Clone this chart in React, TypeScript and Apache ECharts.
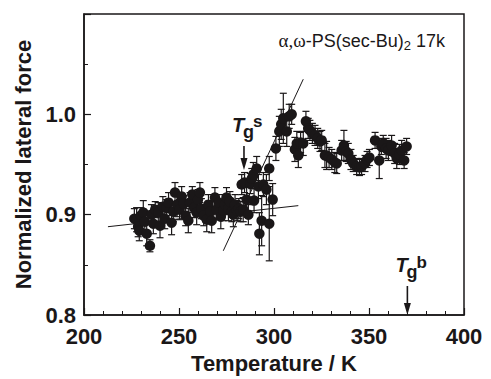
import React, { useEffect, useRef } from 'react';
import * as echarts from 'echarts';

// Temperature (K)
const temperatures = [
  226.5, 227.7, 228.5, 229.1, 230.0, 231.2, 232.0, 233.0, 234.7, 235.5,
  236.5, 237.5, 239.1, 240.0, 241.5, 242.5, 243.5, 244.5, 246.1, 247.0,
  247.9, 249.0, 250.3, 251.4, 252.5, 253.5, 254.9, 255.8, 257.0, 258.0,
  259.3, 260.0, 261.0, 261.8, 263.0, 264.6, 265.5, 266.5, 267.2, 268.9,
  269.8, 271.0, 272.0, 273.3, 274.2, 275.0, 276.0, 276.8, 277.8, 278.6,
  279.5, 280.5, 281.5, 282.5, 283.0, 283.8, 284.5, 285.6, 286.5, 287.5,
  288.3, 289.1, 289.5, 290.9, 291.8, 292.3, 293.5, 294.4, 296.0, 297.5,
  297.5, 299.3, 301.0, 302.8, 303.8, 304.9, 306.7, 308.0, 309.3, 311.0,
  312.0, 312.8, 314.0, 315.4, 316.8, 318.0, 318.9, 320.2, 321.6, 323.0,
  324.2, 325.1, 326.8, 327.7, 329.0, 330.4, 332.0, 333.0, 335.6, 336.8,
  338.0, 339.1, 340.5, 341.7, 343.5, 345.0, 346.1, 347.9, 349.0, 350.2,
  353.2, 355.4, 356.5, 357.5, 359.0, 360.2, 361.9, 363.5, 364.6, 366.0,
  367.2, 368.5, 369.8,
];

// Normalized lateral force
const forces = [
  0.896, 0.895, 0.888, 0.884, 0.899, 0.902, 0.893, 0.881, 0.869, 0.900,
  0.891, 0.905, 0.902, 0.889, 0.908, 0.896, 0.907, 0.912, 0.892, 0.903,
  0.922, 0.910, 0.905, 0.918, 0.911, 0.899, 0.894, 0.912, 0.920, 0.907,
  0.902, 0.915, 0.922, 0.906, 0.899, 0.895, 0.910, 0.903, 0.894, 0.917,
  0.905, 0.912, 0.898, 0.904, 0.910, 0.917, 0.906, 0.913, 0.903, 0.900,
  0.910, 0.904, 0.906, 0.903, 0.930, 0.905, 0.932, 0.915, 0.900, 0.931,
  0.936, 0.940, 0.914, 0.946, 0.928, 0.881, 0.894, 0.930, 0.925, 0.891,
  0.946, 0.915, 0.966, 0.983, 0.990, 0.996, 0.983, 0.998, 1.000, 0.965,
  0.971, 0.959, 0.972, 0.971, 0.993, 0.986, 0.984, 0.981, 0.979, 0.976,
  0.973, 0.974, 0.959, 0.959, 0.957, 0.955, 0.952, 0.951, 0.964, 0.969,
  0.963, 0.961, 0.955, 0.951, 0.948, 0.947, 0.948, 0.951, 0.955, 0.957,
  0.974, 0.954, 0.968, 0.971, 0.966, 0.964, 0.969, 0.961, 0.956, 0.960,
  0.964, 0.954, 0.968,
];

// Error bar half-heights
const errors = [
  0.010, 0.012, 0.010, 0.010, 0.008, 0.012, 0.010, 0.012, 0.006, 0.010,
  0.010, 0.008, 0.010, 0.012, 0.010, 0.010, 0.008, 0.010, 0.012, 0.010,
  0.010, 0.012, 0.010, 0.010, 0.008, 0.010, 0.012, 0.010, 0.008, 0.010,
  0.012, 0.010, 0.010, 0.010, 0.010, 0.012, 0.010, 0.010, 0.012, 0.010,
  0.010, 0.008, 0.012, 0.010, 0.010, 0.010, 0.012, 0.010, 0.010, 0.012,
  0.010, 0.010, 0.010, 0.010, 0.010, 0.012, 0.010, 0.012, 0.010, 0.010,
  0.010, 0.012, 0.012, 0.012, 0.012, 0.021, 0.025, 0.012, 0.015, 0.037,
  0.012, 0.016, 0.012, 0.015, 0.015, 0.025, 0.015, 0.012, 0.010, 0.012,
  0.012, 0.012, 0.010, 0.012, 0.010, 0.010, 0.010, 0.010, 0.010, 0.010,
  0.010, 0.010, 0.012, 0.014, 0.010, 0.010, 0.010, 0.010, 0.010, 0.015,
  0.010, 0.010, 0.010, 0.008, 0.008, 0.008, 0.008, 0.008, 0.008, 0.008,
  0.008, 0.018, 0.008, 0.008, 0.010, 0.010, 0.010, 0.010, 0.010, 0.010,
  0.010, 0.008, 0.008,
];

// Linear guide lines (below and through the surface transition)
const fitLowT = [212.6, 312.8];
const fitLowF = [0.888, 0.909];
const fitHighT = [273.3, 315.4];
const fitHighF = [0.864, 1.035];

// Tick labels
const xTickLabels = ['200', '250', '300', '350', '400'];
const yTickLabels = ['0.8', '0.9', '1.0'];

// Annotation anchors (arrow tips)
const tgSurface = [284.2, 0.9446];
const tgBulk = [370.2, 0.8];

export default function App() {
  const ref = useRef<HTMLDivElement>(null);

  useEffect(() => {
    if (!ref.current) return;
    document.body.style.margin = '0';
    const chart = echarts.init(ref.current, null, { renderer: 'svg' });
    const ink = '#1a1718';
    const font = '"Liberation Sans", Arial, Helvetica, sans-serif';
    const data = temperatures.map((t, i) => [t, forces[i], errors[i]]);

    const errorBar = (params: any, api: any) => {
      const x = api.value(0);
      const y = api.value(1);
      const e = api.value(2);
      const top = api.coord([x, y + e]);
      const bot = api.coord([x, y - e]);
      const cap = 3.5;
      const st = { stroke: ink, lineWidth: 1.2 };
      return {
        type: 'group',
        children: [
          { type: 'line', shape: { x1: top[0], y1: top[1], x2: bot[0], y2: bot[1] }, style: st },
          { type: 'line', shape: { x1: top[0] - cap, y1: top[1], x2: top[0] + cap, y2: top[1] }, style: st },
          { type: 'line', shape: { x1: bot[0] - cap, y1: bot[1], x2: bot[0] + cap, y2: bot[1] }, style: st },
        ],
      };
    };

    const labelStyle = { color: ink, fontSize: 22, fontWeight: 'bold', fontFamily: font };

    chart.setOption({
      animation: false,
      grid: { left: 84, right: 27, top: 14, bottom: 60, show: true, borderColor: ink, borderWidth: 1.5, backgroundColor: 'transparent' },
      xAxis: {
        type: 'value', min: 200, max: 400, interval: 50,
        axisLine: { show: true, lineStyle: { color: ink, width: 1.5 } },
        axisTick: { show: true, inside: true, length: 7, lineStyle: { color: ink, width: 1.2 } },
        minorTick: { show: true, splitNumber: 5, length: 4, lineStyle: { color: ink, width: 1 } },
        splitLine: { show: false },
        axisLabel: {
          ...labelStyle, margin: 10,
          formatter: (v: number) => (xTickLabels.includes(String(Math.round(v))) ? String(Math.round(v)) : ''),
        },
        name: 'Temperature / K', nameLocation: 'middle', nameGap: 37,
        nameTextStyle: labelStyle,
      },
      yAxis: {
        type: 'value', min: 0.8, max: 1.1, interval: 0.1,
        axisLine: { show: true, lineStyle: { color: ink, width: 1.5 } },
        axisTick: { show: true, inside: true, length: 7, lineStyle: { color: ink, width: 1.2 } },
        minorTick: { show: true, splitNumber: 2, length: 4, lineStyle: { color: ink, width: 1 } },
        splitLine: { show: false },
        axisLabel: {
          ...labelStyle, margin: 8,
          formatter: (v: number) => (yTickLabels.includes(v.toFixed(1)) ? v.toFixed(1) : ''),
        },
        name: 'Normalized lateral force', nameLocation: 'middle', nameGap: 50,
        nameTextStyle: labelStyle,
      },
      series: [
        { type: 'custom', renderItem: errorBar, data, encode: { x: 0, y: 1 }, z: 2, silent: true },
        {
          type: 'scatter', data: data.map((d) => [d[0], d[1]]), symbol: 'circle', symbolSize: 10.5,
          itemStyle: { color: ink, opacity: 1 }, z: 3, silent: true,
        },
        {
          type: 'line', data: fitLowT.map((t, i) => [t, fitLowF[i]]), symbol: 'none',
          lineStyle: { color: ink, width: 1 }, z: 4, silent: true,
        },
        {
          type: 'line', data: fitHighT.map((t, i) => [t, fitHighF[i]]), symbol: 'none',
          lineStyle: { color: ink, width: 1 }, z: 4, silent: true,
        },
      ],
    });

    const arrow = (tip: number[], len: number) => {
      const [x, y] = tip;
      return [
        { type: 'line', shape: { x1: x, y1: y - len, x2: x, y2: y - 8 }, style: { stroke: ink, lineWidth: 1.6 } },
        { type: 'polygon', shape: { points: [[x - 3.5, y - 12], [x + 3.5, y - 12], [x, y]] }, style: { fill: ink } },
      ];
    };
    const tgLabel = (tip: number[], len: number, sup: string) => {
      const [x, y] = tip;
      const top = y - len;
      return [
        { type: 'text', x: x - 12, y: top - 21, style: { text: 'T', fill: ink, font: `italic bold 20px ${font}`, verticalAlign: 'middle' } },
        { type: 'text', x: x - 1, y: top - 14, style: { text: 'g', fill: ink, font: `bold 18px ${font}`, verticalAlign: 'middle' } },
        { type: 'text', x: x + 9, y: top - 24, style: { text: sup, fill: ink, font: `bold 17px ${font}`, verticalAlign: 'middle' } },
      ];
    };
    const pS = chart.convertToPixel({ gridIndex: 0 }, tgSurface) as number[];
    const pB = chart.convertToPixel({ gridIndex: 0 }, tgBulk) as number[];

    chart.setOption({
      graphic: [
        ...arrow(pS, 24), ...tgLabel(pS, 24, 's'),
        ...arrow(pB, 29), ...tgLabel(pB, 29, 'b'),
        {
          type: 'text', right: 46, top: 29,
          style: {
            text: '{gr|α,ω}{n|-PS(sec-Bu)}{sub|2}{n| 17k}',
            rich: {
              gr: { fontFamily: '"Liberation Serif", "Times New Roman", serif', fontSize: 19, fill: ink, lineHeight: 20 },
              n: { fontFamily: font, fontSize: 18, fill: ink, lineHeight: 20 },
              sub: { fontFamily: font, fontSize: 13, fill: ink, lineHeight: 12, padding: [10, 0, 0, 0] },
            },
          },
        },
      ],
    });

    return () => chart.dispose();
  }, []);

  return <div ref={ref} style={{ width: 491, height: 379 }} />;
}
